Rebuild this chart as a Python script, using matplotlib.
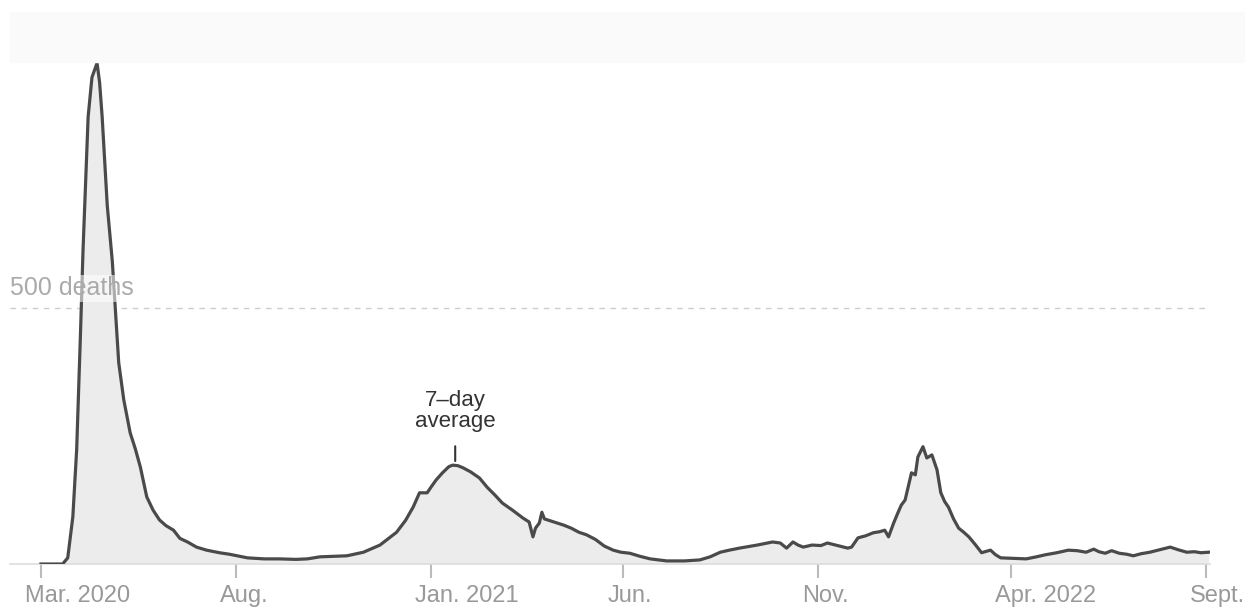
import datetime as dt
import matplotlib
matplotlib.use("Agg")
import matplotlib.pyplot as plt
import matplotlib.dates as mdates
import matplotlib.patches as mpatches
from matplotlib.transforms import ScaledTranslation
import pandas as pd

# --- data: 7-day average of daily deaths ---
dates = [
    "2020-03-01", "2020-03-18", "2020-03-22", "2020-03-26", "2020-03-29",
    "2020-04-01", "2020-04-03", "2020-04-07", "2020-04-10", "2020-04-14",
    "2020-04-16", "2020-04-18", "2020-04-22", "2020-04-26", "2020-04-29",
    "2020-05-01", "2020-05-05", "2020-05-10", "2020-05-14", "2020-05-18",
    "2020-05-23", "2020-05-28", "2020-06-02", "2020-06-07", "2020-06-13",
    "2020-06-18", "2020-06-24", "2020-07-01", "2020-07-09", "2020-07-19",
    "2020-07-27", "2020-08-10", "2020-08-23", "2020-09-04", "2020-09-17",
    "2020-09-26", "2020-10-06", "2020-10-17", "2020-10-27", "2020-11-09",
    "2020-11-22", "2020-12-05", "2020-12-12", "2020-12-18", "2020-12-23",
    "2020-12-29", "2021-01-01", "2021-01-05", "2021-01-10", "2021-01-15",
    "2021-01-18", "2021-01-22", "2021-01-26", "2021-02-01", "2021-02-08",
    "2021-02-14", "2021-02-20", "2021-02-26", "2021-03-06", "2021-03-14",
    "2021-03-19", "2021-03-22", "2021-03-24", "2021-03-27", "2021-03-29",
    "2021-03-31", "2021-04-05", "2021-04-10", "2021-04-15", "2021-04-21",
    "2021-04-27", "2021-05-03", "2021-05-10", "2021-05-17", "2021-05-24",
    "2021-05-30", "2021-06-06", "2021-06-14", "2021-06-22", "2021-07-05",
    "2021-07-19", "2021-07-31", "2021-08-08", "2021-08-16", "2021-08-23",
    "2021-08-31", "2021-09-07", "2021-09-14", "2021-09-20", "2021-09-26",
    "2021-10-02", "2021-10-07", "2021-10-12", "2021-10-16", "2021-10-20",
    "2021-10-27", "2021-11-03", "2021-11-08", "2021-11-16", "2021-11-24",
    "2021-11-27", "2021-12-02", "2021-12-08", "2021-12-14", "2021-12-19",
    "2021-12-23", "2021-12-26", "2021-12-30", "2022-01-02", "2022-01-05",
    "2022-01-08", "2022-01-13", "2022-01-16", "2022-01-18", "2022-01-22",
    "2022-01-25", "2022-01-29", "2022-02-02", "2022-02-05", "2022-02-08",
    "2022-02-11", "2022-02-15", "2022-02-19", "2022-02-23", "2022-02-27",
    "2022-03-04", "2022-03-09", "2022-03-13", "2022-03-16", "2022-03-20",
    "2022-03-24", "2022-04-03", "2022-04-13", "2022-04-21", "2022-04-28",
    "2022-05-07", "2022-05-16", "2022-05-23", "2022-05-30", "2022-06-05",
    "2022-06-09", "2022-06-14", "2022-06-19", "2022-06-25", "2022-07-01",
    "2022-07-06", "2022-07-12", "2022-07-19", "2022-07-27", "2022-08-04",
    "2022-08-10", "2022-08-17", "2022-08-23", "2022-08-28", "2022-09-03",
]
deaths = [
    0, 0, 12, 92, 223,
    450, 613, 873, 950, 978,
    940, 873, 700, 590, 470,
    393, 320, 256, 225, 189,
    131, 105, 86, 75, 66,
    50, 43, 33, 27, 22,
    19, 12, 10, 10, 9,
    10, 14, 15, 16, 23,
    37, 62, 85, 111, 139,
    139, 150, 164, 178, 190,
    193, 192, 188, 180, 168,
    150, 135, 119, 105, 90,
    82, 53, 70, 80, 101,
    88, 84, 80, 76, 70,
    62, 57, 48, 35, 27,
    23, 21, 15, 10, 6,
    6, 8, 14, 23, 27,
    31, 34, 37, 40, 43,
    41, 31, 43, 37, 33,
    37, 36, 41, 36, 31,
    33, 51, 55, 61, 63,
    66, 53, 80, 98, 115,
    125, 178, 174, 209, 229,
    207, 213, 184, 139, 122,
    111, 88, 70, 62, 53,
    38, 22, 25, 27, 18,
    12, 11, 10, 14, 18,
    22, 27, 26, 23, 29,
    24, 21, 26, 21, 19,
    16, 20, 23, 28, 33,
    28, 23, 24, 22, 23,
]
tick_dates = ["2020-03-01", "2020-08-01", "2021-01-01", "2021-06-01",
              "2021-11-01", "2022-04-01", "2022-09-01"]
tick_labels = ["Mar. 2020", "Aug.", "Jan. 2021", "Jun.", "Nov.", "Apr. 2022", "Sept."]
grid_value = 500
grid_label = "500 deaths"
note_date = "2021-01-20"
note_text = "7\u2013day\naverage"

x = pd.to_datetime(dates)

fig = plt.figure(figsize=(12.45, 6.07), dpi=100)
W, H = 1245, 607

# faint banner strip across the top
fig.patches.append(mpatches.Rectangle((10 / W, 1 - 62 / H), 1 - 10 / W, 50 / H,
                                      transform=fig.transFigure, color="#fafafa",
                                      zorder=0))

# axes placed in pixels: baseline at y=564, top at y=40, x from 10 to 1210
ax = fig.add_axes([10 / W, (H - 564) / H, 1200 / W, (564 - 40) / H])
ax.patch.set_alpha(0)

ax.fill_between(x, deaths, 0, color="#ececec", lw=0, zorder=1)
ax.plot(x, deaths, color="#4a4a4a", lw=2.3, solid_joinstyle="round", zorder=3)

start = mdates.date2num(dt.datetime(2020, 3, 1))
ax.set_xlim(start - 24.3, start + 917.2)
ax.set_ylim(0, 1023)

for s in ["top", "right", "left"]:
    ax.spines[s].set_visible(False)
ax.spines["bottom"].set_color("#dddddd")
ax.spines["bottom"].set_linewidth(1.2)
ax.set_yticks([])

ax.axhline(grid_value, color="#cccccc", lw=1, ls=(0, (4, 4)), zorder=0.5)
ax.text(0.0, grid_value + 15, grid_label, transform=ax.get_yaxis_transform(),
        fontsize=18, color="#aaaaaa", family=["Liberation Sans", "DejaVu Sans"],
        va="bottom", ha="left", zorder=4,
        bbox=dict(facecolor="white", alpha=0.55, edgecolor="none", pad=1))

ax.set_xticks(pd.to_datetime(tick_dates))
ax.set_xticklabels(tick_labels)
ax.tick_params(axis="x", length=10, width=1.5, color="#bbbbbb", pad=5,
               labelsize=17, labelcolor="#999999")
for lab in ax.get_xticklabels():
    lab.set_family(["Liberation Sans", "DejaVu Sans"])
    lab.set_ha("left")
    lab.set_transform(lab.get_transform() + ScaledTranslation(-16 / 100, 0, fig.dpi_scale_trans))

# label for the line
nd = pd.to_datetime(note_date)
peak = max(v for d, v in zip(x, deaths) if abs((d - nd).days) < 15)
ax.annotate(note_text, xy=(nd, peak + 8), xytext=(nd, peak + 64),
            ha="center", va="bottom", fontsize=16, color="#333333",
            family=["Liberation Sans Narrow", "Liberation Sans", "DejaVu Sans"],
            linespacing=1.0,
            arrowprops=dict(arrowstyle="-", color="#333333", lw=1.5,
                            shrinkA=8, shrinkB=0))

fig.savefig("out.png", dpi=100)
